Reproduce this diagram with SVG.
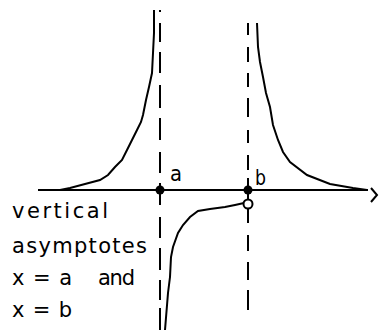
<svg xmlns="http://www.w3.org/2000/svg" width="379" height="330" viewBox="0 0 379 330">
<style>
.ln{fill:none;stroke:#000;stroke-width:2}
.cv{fill:none;stroke:#000;stroke-width:2;stroke-linejoin:miter}
.t{font-family:"DejaVu Sans","Liberation Sans",sans-serif;font-size:21px;fill:#000}
</style>
<rect width="379" height="330" fill="#fff"/>
<g id="axis">
<path class="ln" d="M38,190 H368"/>
<polyline class="ln" stroke-width="1.5" points="371,188 377,195 371,202"/>
</g>
<g id="asymptote-a">
<path class="ln" d="M160,10V12 M160,23V42 M160,52V73 M160,85V108 M160,118V140 M160,152V173 M160,183V205 M160,217V238 M160,248V270 M160,280V300 M160,308V330"/>
</g>
<g id="asymptote-b">
<path class="ln" d="M248,23V35 M248,47V62 M248,73V87 M248,98V117 M248,130V143 M248,155V170 M248,178V223 M248,235V251 M248,262V280 M248,290V310"/>
</g>
<g id="curves">
<polyline class="cv" points="154,10 154,33 152,73 149,87 146,100 143,115 141,122 137,130 132,140 127,150 122,160 115,167 108,175 100,180 85,184 70,188 60,190"/>
<polyline class="cv" points="257,23 258,47 260,62 263,77 266,93 270,107 273,125 278,140 283,152 290,162 307,175 330,184 353,188 367,190"/>
<polyline class="cv" points="244,203 235,205 225,207 210,209 198,211 190,217 183,225 178,233 173,247 171,257 170,277 168,293 165,330"/>
</g>
<g id="points">
<circle cx="160" cy="190" r="4.5" fill="#000"/>
<circle cx="248" cy="190" r="4.5" fill="#000"/>
<circle cx="248" cy="204" r="4.5" fill="#fff" stroke="#000" stroke-width="2"/>
</g>
<g id="labels">
<text class="t" x="170" y="181" textLength="12" lengthAdjust="spacingAndGlyphs">a</text>
<text class="t" x="255" y="185" textLength="11" lengthAdjust="spacingAndGlyphs">b</text>
<text class="t" x="12" y="218" textLength="96" lengthAdjust="spacing">vertical</text>
<text class="t" x="12" y="253" textLength="135" lengthAdjust="spacing">asymptotes</text>
<text class="t" x="12" y="285" textLength="60" lengthAdjust="spacing">x = a</text>
<text class="t" x="98" y="285" textLength="37" lengthAdjust="spacing">and</text>
<text class="t" x="12" y="317" textLength="60" lengthAdjust="spacing">x = b</text>
</g>
</svg>
